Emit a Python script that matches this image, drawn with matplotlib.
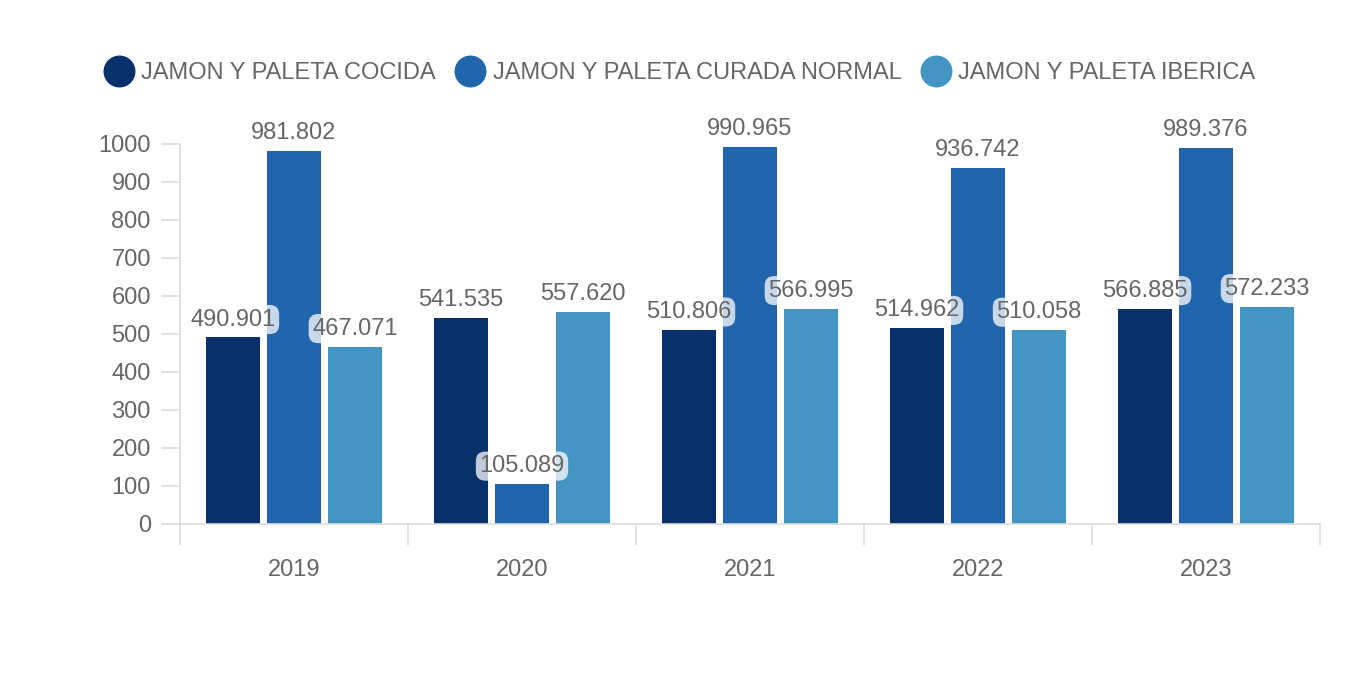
import numpy as np
import matplotlib.pyplot as plt
from matplotlib.lines import Line2D

plt.rcParams['font.family'] = ['Liberation Sans', 'DejaVu Sans']

# === DATOS ===
years = ["2019", "2020", "2021", "2022", "2023"]
series_names = ["JAMON Y PALETA COCIDA", "JAMON Y PALETA CURADA NORMAL", "JAMON Y PALETA IBERICA"]
cocida = [490.901, 541.535, 510.806, 514.962, 566.885]
curada = [981.802, 105.089, 990.965, 936.742, 989.376]
iberica = [467.071, 557.620, 566.995, 510.058, 572.233]
colors = ["#08306b", "#2165ac", "#4494c4"]

TXT = "#666666"
AXC = "#dddddd"

fig = plt.figure(figsize=(13.6, 6.8), dpi=100)
ax = fig.add_axes([180 / 1360, 156 / 680, 1140 / 1360, 380 / 680])

x = np.arange(len(years))
width = 0.241
step = 0.2675

for i, (vals, col) in enumerate(zip([cocida, curada, iberica], colors)):
    pos = x + (i - 1) * step
    bars = ax.bar(pos, vals, width=width, color=col, zorder=2)
    for b, v in zip(bars, vals):
        ax.annotate(f"{v:.3f}", (b.get_x() + b.get_width() / 2, v),
                    xytext=(0, 5), textcoords="offset points",
                    ha="center", va="bottom", fontsize=17, color=TXT,
                    zorder=5, annotation_clip=False,
                    bbox=dict(boxstyle="round,pad=0.15,rounding_size=0.4",
                              fc="white", ec="none", alpha=0.75))

ax.set_xlim(-0.5, len(years) - 0.5)
ax.set_ylim(0, 1000)
ax.set_yticks(np.arange(0, 1001, 100))
ax.set_xticks(x)
ax.set_xticklabels(years)
ax.set_xticks(np.arange(-0.5, len(years)), minor=True)

for s in ["top", "right"]:
    ax.spines[s].set_visible(False)
ax.spines["left"].set_color(AXC)
ax.spines["bottom"].set_color(AXC)
ax.spines["left"].set_linewidth(1.2)
ax.spines["bottom"].set_linewidth(1.2)

ax.tick_params(axis="y", length=14, color=AXC, width=1.2, labelsize=17, labelcolor=TXT, pad=7)
ax.tick_params(axis="x", which="major", length=0, labelsize=17, labelcolor=TXT, pad=25)
ax.tick_params(axis="x", which="minor", length=15, color=AXC, width=1.2)

# --- LEYENDA ---
handles = [Line2D([0], [0], marker="o", linestyle="none", markersize=22,
                  markerfacecolor=c, markeredgecolor=c) for c in colors]
fig.legend(handles, series_names, loc="center", bbox_to_anchor=(0.5, 1 - 73 / 680),
           ncol=3, frameon=False, fontsize=17, labelcolor=TXT,
           handletextpad=0.35, columnspacing=0.85, handlelength=1.2)

fig.savefig("out.png", dpi=100)
